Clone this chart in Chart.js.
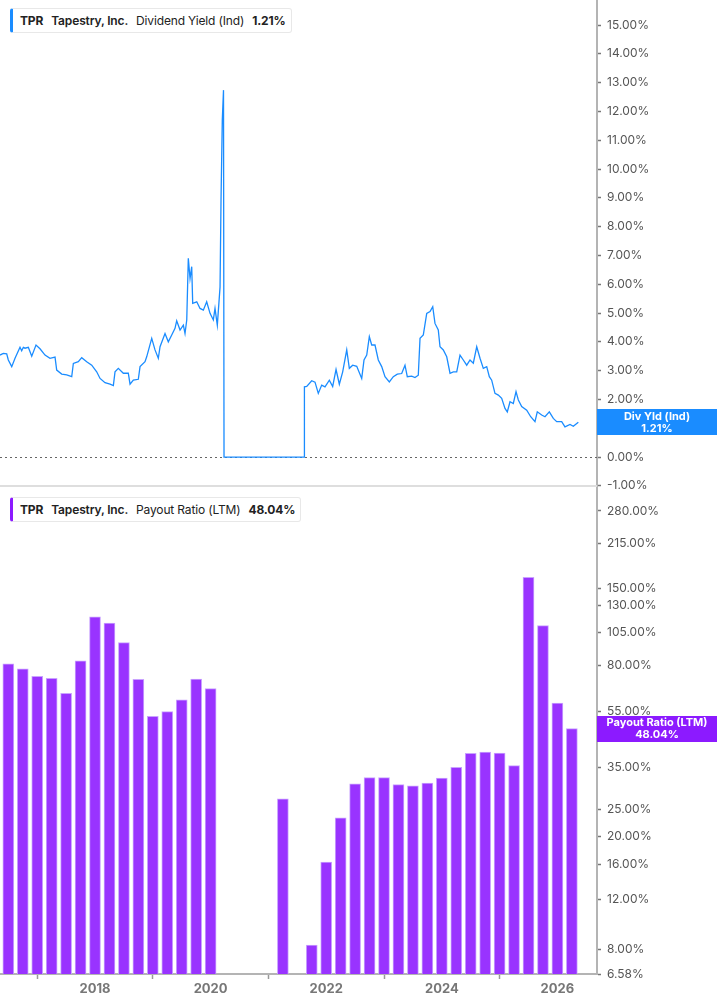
<!DOCTYPE html>
<html>
<head>
<meta charset="utf-8">
<script src="https://cdn.jsdelivr.net/npm/chart.js@4/dist/chart.umd.min.js"></script>
<style>
  html, body { margin: 0; padding: 0; background: #fff; width: 717px; height: 1005px; overflow: hidden; font-family: Inter, "Noto Sans", sans-serif; }
  #topWrap { position: absolute; left: 0; top: 0; width: 717px; height: 500px; z-index: 2; }
  #botWrap { position: absolute; left: 0; top: 487px; width: 717px; height: 518px; z-index: 1; }
  .legend { position: absolute; left: 10px; height: 23px; background: #fff; border: 1px solid #e8e8e8; border-radius: 3px; z-index: 3;
            font-size: 12px; line-height: 23px; color: #222; padding: 0 5px 0 7px; white-space: nowrap; letter-spacing: -0.15px; }
  .legend b { font-weight: 700; }
  .legend .co { font-weight: 600; }
  .legend span { margin-right: 8px; }
  .legend span:last-child { margin-right: 0; }
</style>
</head>
<body>
<div id="topWrap"><canvas id="topChart" width="717" height="500"></canvas></div>
<div id="botWrap"><canvas id="botChart" width="717" height="518"></canvas></div>
<div class="legend" style="top:8px; border-left:3px solid #1a8cff;"><span><b>TPR</b></span><span class="co">Tapestry, Inc.</span><span>Dividend Yield (Ind)</span><span><b>1.21%</b></span></div>
<div class="legend" style="top:497px; border-left:3px solid #8c1aff;"><span><b>TPR</b></span><span class="co">Tapestry, Inc.</span><span>Payout Ratio (LTM)</span><span><b>48.04%</b></span></div>
<script>
// ---------- DATA ----------
const yieldDates = [
  2016.356, 2016.413, 2016.472, 2016.500, 2016.559, 2016.616, 2016.702, 2016.731, 2016.760, 2016.789, 2016.846, 2016.905,
  2016.979, 2017.048, 2017.135, 2017.221, 2017.308, 2017.337, 2017.424, 2017.510, 2017.597, 2017.625,
  2017.711, 2017.770, 2017.856, 2017.943, 2018.029, 2018.087, 2018.173, 2018.260, 2018.317, 2018.346,
  2018.403, 2018.490, 2018.576, 2018.606, 2018.663, 2018.749, 2018.779, 2018.865, 2018.894, 2018.981,
  2019.038, 2019.095, 2019.125, 2019.211, 2019.268, 2019.327, 2019.384, 2019.413, 2019.471, 2019.528,
  2019.557, 2019.587, 2019.614, 2019.644, 2019.673, 2019.690, 2019.760, 2019.817, 2019.874, 2019.932,
  2019.990, 2020.047, 2020.076, 2020.116, 2020.163, 2020.180, 2020.202, 2020.223, 2020.232, 2021.621,
  2021.623, 2021.663, 2021.749, 2021.806, 2021.863, 2021.922, 2021.979, 2022.054, 2022.112, 2022.170,
  2022.227, 2022.285, 2022.355, 2022.400, 2022.458, 2022.528, 2022.614, 2022.654, 2022.701, 2022.746,
  2022.787, 2022.844, 2022.901, 2022.960, 2023.017, 2023.092, 2023.161, 2023.230, 2023.306, 2023.363,
  2023.403, 2023.479, 2023.536, 2023.593, 2023.623, 2023.680, 2023.739, 2023.796, 2023.843, 2023.882,
  2023.939, 2023.969, 2024.026, 2024.085, 2024.142, 2024.199, 2024.258, 2024.315, 2024.372, 2024.431,
  2024.488, 2024.545, 2024.604, 2024.661, 2024.718, 2024.777, 2024.822, 2024.863, 2024.920, 2024.978,
  2025.036, 2025.093, 2025.133, 2025.180, 2025.237, 2025.284, 2025.324, 2025.382, 2025.469, 2025.538,
  2025.612, 2025.652, 2025.728, 2025.785, 2025.860, 2025.929, 2025.988, 2026.074, 2026.131, 2026.218,
  2026.275, 2026.362
];
const yieldValues = [
  3.54, 3.60, 3.58, 3.37, 3.14, 3.43, 3.81, 3.69, 3.81, 3.78, 3.81, 3.50,
  3.89, 3.76, 3.54, 3.43, 3.47, 3.02, 2.88, 2.85, 2.79, 3.25,
  3.31, 3.45, 3.31, 3.19, 2.96, 2.73, 2.58, 2.53, 2.48, 2.96,
  3.08, 2.91, 2.91, 2.53, 2.67, 2.70, 3.14, 3.31, 3.48, 4.12,
  3.72, 3.43, 3.83, 4.29, 4.00, 4.24, 4.47, 4.73, 4.41, 4.58,
  4.29, 4.76, 6.90, 6.20, 6.61, 5.34, 5.39, 5.16, 5.10, 5.39,
  4.99, 4.76, 5.16, 4.58, 5.90, 8.92, 11.70, 12.74, 0.00, 0.00,
  2.44, 2.45, 2.65, 2.60, 2.21, 2.50, 2.44, 2.67, 2.45, 3.04,
  2.53, 2.96, 3.72, 3.08, 3.19, 3.15, 2.73, 3.37, 3.54, 4.18,
  3.89, 3.89, 3.37, 3.14, 2.79, 2.61, 2.79, 2.88, 2.90, 3.19,
  2.79, 2.81, 2.76, 2.84, 4.12, 4.24, 4.99, 5.05, 5.22, 4.64,
  4.41, 3.83, 3.72, 3.48, 2.91, 2.96, 2.96, 3.54, 3.37, 3.19,
  3.37, 3.26, 3.83, 3.43, 3.08, 3.14, 2.79, 2.67, 2.21, 2.15,
  2.04, 1.69, 1.57, 1.92, 1.86, 2.27, 1.98, 1.75, 1.63, 1.40,
  1.23, 1.57, 1.46, 1.40, 1.57, 1.34, 1.23, 1.23, 1.05, 1.13,
  1.07, 1.21
];
const payoutDates = [
  2016.50, 2016.75, 2017.00, 2017.25, 2017.50, 2017.75, 2018.00, 2018.25, 2018.50, 2018.75,
  2019.00, 2019.25, 2019.50, 2019.75, 2020.00, 2021.25, 2021.75, 2022.00, 2022.25, 2022.50,
  2022.75, 2023.00, 2023.25, 2023.50, 2023.75, 2024.00, 2024.25, 2024.50, 2024.75, 2025.00,
  2025.25, 2025.50, 2025.75, 2026.00, 2026.25
];
const payoutValues = [
  81.1, 77.9, 73.4, 72.2, 63.9, 83.1, 118.7, 113.0, 96.4, 71.6,
  53.1, 55.1, 60.6, 71.8, 66.4, 27.2, 8.32, 16.3, 23.3, 30.7,
  32.3, 32.3, 30.5, 30.2, 30.9, 32.2, 35.1, 39.3, 39.7, 39.4,
  35.6, 163.7, 110.6, 59.1, 48.04
];
const yieldTicks = [-1, 0, 1, 2, 3, 4, 5, 6, 7, 8, 9, 10, 11, 12, 13, 14, 15];
const payoutTicks = [6.58, 8, 12, 16, 20, 25, 35, 45, 55, 80, 105, 130, 150, 215, 280];
const yearTicks = [2018, 2020, 2022, 2024, 2026];
const yieldLabel = ['Div Yld (Ind)', '1.21%'];
const payoutLabel = ['Payout Ratio (LTM)', '48.04%'];

// ---------- STYLE ----------
const X_MIN = 2016.356, X_MAX = 2026.685;
const AXIS_W = 120;
const BLUE = '#1a8cff', PURPLE = '#9933ff', PURPLE_LBL = '#8c1aff';
const FONT = 'Inter, "Noto Sans", sans-serif';

function fmtPct(v) { return v.toFixed(2) + '%'; }

function valueBoxPlugin(id, lines, color, lastValue) {
  return {
    id: id,
    afterDraw(chart) {
      const ctx = chart.ctx, ca = chart.chartArea, ys = chart.scales.y;
      const yc = ys.getPixelForValue(lastValue);
      const h = 26;
      ctx.save();
      ctx.fillStyle = color;
      ctx.fillRect(ca.right, Math.round(yc - h / 2), chart.width - ca.right, h);
      ctx.fillStyle = '#fff';
      ctx.font = '700 11px ' + FONT;
      ctx.textAlign = 'center';
      ctx.textBaseline = 'middle';
      const cx = ca.right + (chart.width - ca.right) / 2;
      ctx.fillText(lines[0], cx, yc - 6);
      ctx.fillText(lines[1], cx, yc + 6.5);
      ctx.restore();
    }
  };
}

const zeroUnder = {
  id: 'zeroUnder',
  beforeDatasetsDraw(chart) {
    const ctx = chart.ctx, ca = chart.chartArea, ys = chart.scales.y;
    const y0 = Math.round(ys.getPixelForValue(0)) + 0.5;
    ctx.save();
    ctx.strokeStyle = '#666'; ctx.lineWidth = 1; ctx.setLineDash([2, 3]);
    ctx.beginPath(); ctx.moveTo(ca.left, y0); ctx.lineTo(ca.right, y0); ctx.stroke();
    ctx.setLineDash([]);
    ctx.strokeStyle = '#dedede'; ctx.lineWidth = 2;
    ctx.beginPath(); ctx.moveTo(ca.left, ca.bottom - 1); ctx.lineTo(ca.right, ca.bottom - 1); ctx.stroke();
    ctx.restore();
  }
};

const yAxisCommon = {
  position: 'right',
  border: { display: true, color: '#b4b4b4', width: 2 },
  grid: { drawOnChartArea: false, drawTicks: true, tickLength: 4, tickColor: '#777', tickWidth: 1.5 },
  ticks: { color: '#555', font: { family: FONT, size: 12 }, padding: 6, callback: (v) => fmtPct(v), autoSkip: false }
};

// ---------- TOP CHART ----------
new Chart(document.getElementById('topChart'), {
  type: 'line',
  data: {
    datasets: [{
      data: yieldDates.map((d, i) => ({ x: d, y: yieldValues[i] })),
      borderColor: BLUE, borderWidth: 1.3, pointRadius: 0, tension: 0, fill: false
    }]
  },
  options: {
    responsive: false, animation: false,
    layout: { padding: { top: 0, left: 0, right: 0, bottom: 13 } },
    plugins: { legend: { display: false }, tooltip: { enabled: false } },
    scales: {
      x: { type: 'linear', min: X_MIN, max: X_MAX, display: false },
      y: Object.assign({}, yAxisCommon, {
        type: 'linear', min: -1.04, max: 15.87,
        afterBuildTicks: (s) => { s.ticks = yieldTicks.map(v => ({ value: v })); },
        afterFit: (s) => { s.width = AXIS_W; s.paddingTop = 0; s.paddingBottom = 0; }
      })
    }
  },
  plugins: [zeroUnder, valueBoxPlugin('yBox', yieldLabel, BLUE, yieldValues[yieldValues.length - 1])]
});

// ---------- BOTTOM CHART ----------
new Chart(document.getElementById('botChart'), {
  type: 'bar',
  data: {
    datasets: [{
      data: payoutDates.map((d, i) => ({ x: d, y: payoutValues[i] })),
      backgroundColor: PURPLE,
      borderColor: '#c9a2ff',
      borderWidth: { top: 1, left: 1, right: 1, bottom: 0 },
      borderSkipped: 'bottom',
      barThickness: 11
    }]
  },
  options: {
    responsive: false, animation: false,
    layout: { padding: 0 },
    plugins: { legend: { display: false }, tooltip: { enabled: false } },
    scales: {
      x: {
        type: 'linear', min: X_MIN, max: X_MAX, position: 'bottom', offset: false,
        border: { display: true, color: '#b4b4b4', width: 2 },
        grid: { drawOnChartArea: false, drawTicks: true, tickLength: 5, tickColor: '#999', tickWidth: 1.5 },
        ticks: { color: '#777', font: { family: FONT, size: 13, weight: '700' }, padding: 2, autoSkip: false, maxRotation: 0, callback: (v) => String(v) },
        afterBuildTicks: (s) => { s.ticks = yearTicks.map(v => ({ value: v })); },
        afterFit: (s) => { s.height = 31; s.paddingLeft = 0; s.paddingRight = 0; }
      },
      y: Object.assign({}, yAxisCommon, {
        type: 'logarithmic', min: 6.58, max: 340,
        afterBuildTicks: (s) => { s.ticks = payoutTicks.map(v => ({ value: v })); },
        afterFit: (s) => { s.width = AXIS_W; s.paddingTop = 0; s.paddingBottom = 0; }
      })
    }
  },
  plugins: [valueBoxPlugin('pBox', payoutLabel, PURPLE_LBL, payoutValues[payoutValues.length - 1])]
});
</script>
</body>
</html>
